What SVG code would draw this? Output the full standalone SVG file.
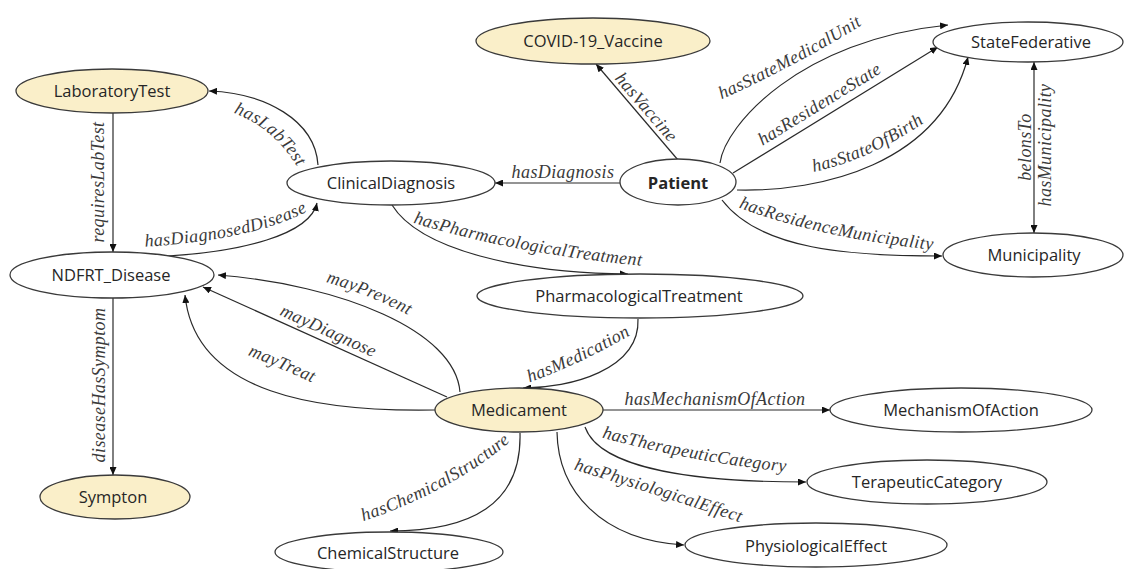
<svg xmlns="http://www.w3.org/2000/svg" width="1125" height="569" viewBox="0 0 1125 569">
  <style>
    .node { fill: #ffffff; stroke: #3a3a3a; stroke-width: 1.3; }
    .node.hl { fill: #faefc9; }
    .nlabel { font-family: "Open Sans", "Noto Sans", sans-serif; font-size: 16.5px; fill: #262626; text-anchor: middle; }
    .nlabel.bold { font-weight: bold; }
    .edge { fill: none; stroke: #2a2a2a; stroke-width: 1.2; marker-end: url(#arrow); }
    .elabel { font-family: "Liberation Serif", "Times New Roman", serif; font-style: italic; font-size: 18px; fill: #3a3a3a; letter-spacing: 0.4px; }
    .lp { fill: none; stroke: none; }
  </style>
  <defs>
    <marker id="arrow" viewBox="0 0 8 7" refX="8" refY="3.5" markerWidth="8" markerHeight="7" markerUnits="userSpaceOnUse" orient="auto-start-reverse">
      <path d="M0,0 L8,3.5 L0,7 z" fill="#111"/>
    </marker>
    <!-- baselines for the curved edge labels -->
    <path id="lp-hasLabTest" class="lp" d="M186.7,98.5 L225,110 Q275,125 302,175 L321,210.2"/>
    <path id="lp-hasDiagnosedDisease" class="lp" d="M102.1,249.5 L142,247 Q255,240 310,210 L345.1,190.8"/>
    <path id="lp-hasVaccine" class="lp" d="M589.7,50.4 L694.3,171.6"/>
    <path id="lp-hasStateMedicalUnit" class="lp" d="M685.4,115.2 L722,99 Q792,68 862,25 L896.1,4.1"/>
    <path id="lp-hasResidenceState" class="lp" d="M710.9,177.6 L934.1,40.3"/>
    <path id="lp-hasStateOfBirth" class="lp" d="M773.8,180.2 L813,172 Q870,160 925,122 L957.9,99.3"/>
    <path id="lp-hasResidenceMunicipality" class="lp" d="M699.5,193 L737,207 Q820,238 935,250 L974.8,254.2"/>
    <path id="lp-hasPharmacologicalTreatment" class="lp" d="M371.7,210.5 L410,222 Q520,255 645,266 L684.8,269.5"/>
    <path id="lp-hasMedication" class="lp" d="M490.5,396.8 L528,383 Q585,362 632,334 L666.4,313.5"/>
    <path id="lp-mayPrevent" class="lp" d="M283.4,270.5 L322,281 Q366,293 412,317 L447.4,335.5"/>
    <path id="lp-mayDiagnose" class="lp" d="M225.6,290.5 L426.4,381.5"/>
    <path id="lp-mayTreat" class="lp" d="M207.9,339.2 L245,354 Q280,368 315,384 L351.4,400.6"/>
    <path id="lp-hasTherapeuticCategory" class="lp" d="M561.4,426.3 L600,437 Q690,462 788,472 L827.8,476.1"/>
    <path id="lp-hasPhysiologicalEffect" class="lp" d="M533.7,457.5 L572,469 Q655,494 742,523 L780,535.6"/>
    <path id="lp-hasChemicalStructure" class="lp" d="M326.1,533.8 L364,521 Q450,492 510,442 L540.7,416.4"/>
  </defs>

  <rect width="1125" height="569" fill="#ffffff"/>

  <g id="connectors">
    <!-- LaboratoryTest / NDFRT_Disease / Sympton column -->
    <path class="edge" d="M113,113 L113,252"/>
    <text class="elabel" text-anchor="middle" transform="translate(104,182) rotate(-90)">requiresLabTest</text>
    <path class="edge" d="M113,298 L113,475"/>
    <text class="elabel" text-anchor="middle" transform="translate(105,385) rotate(-90)">diseaseHasSymptom</text>

    <!-- ClinicalDiagnosis -->
    <path class="edge" d="M318,165 C315,120 265,93 209,91"/>
    <text class="elabel"><textPath href="#lp-hasLabTest" startOffset="50%" text-anchor="middle">hasLabTest</textPath></text>
    <path class="edge" d="M167,256 C240,252 310,235 317,203"/>
    <text class="elabel"><textPath href="#lp-hasDiagnosedDisease" startOffset="50%" text-anchor="middle">hasDiagnosedDisease</textPath></text>
    <path class="edge" d="M392,205 C420,250 520,273 628,274"/>
    <text class="elabel"><textPath href="#lp-hasPharmacologicalTreatment" startOffset="50%" text-anchor="middle">hasPharmacologicalTreatment</textPath></text>

    <!-- Patient -->
    <path class="edge" d="M620,183 L495,183"/>
    <text class="elabel" x="563" y="178" text-anchor="middle">hasDiagnosis</text>
    <path class="edge" d="M678,160 L596,64"/>
    <text class="elabel"><textPath href="#lp-hasVaccine" startOffset="50%" text-anchor="middle">hasVaccine</textPath></text>
    <path class="edge" d="M720,163 C725,125 800,40 948,25"/>
    <text class="elabel"><textPath href="#lp-hasStateMedicalUnit" startOffset="50%" text-anchor="middle">hasStateMedicalUnit</textPath></text>
    <path class="edge" d="M733,173 L938,47"/>
    <text class="elabel"><textPath href="#lp-hasResidenceState" startOffset="50%" text-anchor="middle">hasResidenceState</textPath></text>
    <path class="edge" d="M737,190 C820,192 940,165 968,57"/>
    <text class="elabel"><textPath href="#lp-hasStateOfBirth" startOffset="50%" text-anchor="middle">hasStateOfBirth</textPath></text>
    <path class="edge" d="M722,200 C760,250 850,256 942,256"/>
    <text class="elabel"><textPath href="#lp-hasResidenceMunicipality" startOffset="50%" text-anchor="middle">hasResidenceMunicipality</textPath></text>

    <!-- StateFederative <-> Municipality -->
    <path class="edge" d="M1034,62 L1034,233" marker-start="url(#arrow)"/>
    <text class="elabel" text-anchor="middle" transform="translate(1031,147) rotate(-90)">belonsTo</text>
    <text class="elabel" text-anchor="middle" transform="translate(1051,145) rotate(-90)">hasMunicipality</text>

    <!-- PharmacologicalTreatment -> Medicament -->
    <path class="edge" d="M638,319 C640,370 570,388 523,388"/>
    <text class="elabel"><textPath href="#lp-hasMedication" startOffset="50%" text-anchor="middle">hasMedication</textPath></text>

    <!-- Medicament -> NDFRT_Disease -->
    <path class="edge" d="M460,392 C455,330 340,285 218,275"/>
    <text class="elabel"><textPath href="#lp-mayPrevent" startOffset="50%" text-anchor="middle">mayPrevent</textPath></text>
    <path class="edge" d="M447,397 L203,287"/>
    <text class="elabel"><textPath href="#lp-mayDiagnose" startOffset="50%" text-anchor="middle">mayDiagnose</textPath></text>
    <path class="edge" d="M435,410 C320,412 195,395 185,295"/>
    <text class="elabel"><textPath href="#lp-mayTreat" startOffset="50%" text-anchor="middle">mayTreat</textPath></text>

    <!-- Medicament -> properties -->
    <path class="edge" d="M603,410 L830,410"/>
    <text class="elabel" x="715" y="405" text-anchor="middle">hasMechanismOfAction</text>
    <path class="edge" d="M585,427 C600,470 700,482 806,482"/>
    <text class="elabel"><textPath href="#lp-hasTherapeuticCategory" startOffset="50%" text-anchor="middle">hasTherapeuticCategory</textPath></text>
    <path class="edge" d="M557,432 C558,490 600,540 684,545"/>
    <text class="elabel"><textPath href="#lp-hasPhysiologicalEffect" startOffset="50%" text-anchor="middle">hasPhysiologicalEffect</textPath></text>
    <path class="edge" d="M520,433 C522,505 470,531 390,531"/>
    <text class="elabel"><textPath href="#lp-hasChemicalStructure" startOffset="50%" text-anchor="middle">hasChemicalStructure</textPath></text>
  </g>

  <g id="node-LaboratoryTest">
    <ellipse class="node hl" cx="112" cy="91" rx="96" ry="22"/>
    <text class="nlabel" x="112" y="97">LaboratoryTest</text>
  </g>
  <g id="node-COVID-19_Vaccine">
    <ellipse class="node hl" cx="593" cy="41" rx="117" ry="23"/>
    <text class="nlabel" x="593" y="47">COVID-19_Vaccine</text>
  </g>
  <g id="node-StateFederative">
    <ellipse class="node" cx="1028" cy="42" rx="95" ry="20"/>
    <text class="nlabel" x="1031" y="47.5">StateFederative</text>
  </g>
  <g id="node-ClinicalDiagnosis">
    <ellipse class="node" cx="391" cy="183" rx="104" ry="22"/>
    <text class="nlabel" x="391" y="189">ClinicalDiagnosis</text>
  </g>
  <g id="node-Patient">
    <ellipse class="node" cx="678" cy="182" rx="58" ry="23"/>
    <text class="nlabel bold" x="678" y="189">Patient</text>
  </g>
  <g id="node-Municipality">
    <ellipse class="node" cx="1033" cy="255" rx="90" ry="22"/>
    <text class="nlabel" x="1034" y="261">Municipality</text>
  </g>
  <g id="node-NDFRT_Disease">
    <ellipse class="node" cx="112" cy="275" rx="102" ry="23"/>
    <text class="nlabel" x="111" y="281">NDFRT_Disease</text>
  </g>
  <g id="node-PharmacologicalTreatment">
    <ellipse class="node" cx="640" cy="296" rx="163" ry="22"/>
    <text class="nlabel" x="639" y="302">PharmacologicalTreatment</text>
  </g>
  <g id="node-Medicament">
    <ellipse class="node hl" cx="519" cy="410" rx="84" ry="22"/>
    <text class="nlabel" x="519" y="416">Medicament</text>
  </g>
  <g id="node-MechanismOfAction">
    <ellipse class="node" cx="961" cy="410" rx="131" ry="22"/>
    <text class="nlabel" x="961" y="416">MechanismOfAction</text>
  </g>
  <g id="node-TerapeuticCategory">
    <ellipse class="node" cx="927" cy="482" rx="120" ry="22"/>
    <text class="nlabel" x="927" y="488">TerapeuticCategory</text>
  </g>
  <g id="node-PhysiologicalEffect">
    <ellipse class="node" cx="816" cy="545" rx="131" ry="22"/>
    <text class="nlabel" x="816" y="552">PhysiologicalEffect</text>
  </g>
  <g id="node-ChemicalStructure">
    <ellipse class="node" cx="389" cy="552" rx="114" ry="20"/>
    <text class="nlabel" x="388" y="559">ChemicalStructure</text>
  </g>
  <g id="node-Sympton">
    <ellipse class="node hl" cx="115" cy="497" rx="75" ry="22"/>
    <text class="nlabel" x="113" y="503">Sympton</text>
  </g>
</svg>
